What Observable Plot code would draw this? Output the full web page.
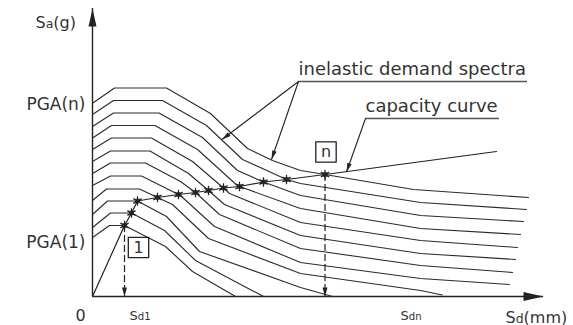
<!DOCTYPE html>
<html><head><meta charset="utf-8">
<script src="https://cdn.jsdelivr.net/npm/d3@7"></script>
<script src="https://cdn.jsdelivr.net/npm/@observablehq/plot@0.6"></script>
<style>
html,body{margin:0;padding:0;background:#fff;}
#chart svg{display:block;}
</style></head><body><div id="chart"></div>
<script>
// Capacity curve (Sd, Sa) in chart units; inner points are the performance points 1..n
const capacityX = [0, 32, 39, 45, 65, 86, 103, 116, 131, 147, 171, 194, 232.5, 404];
const capacityY = [0, 71, 83.5, 95.5, 99, 102, 104, 106, 108.5, 110, 114.5, 117, 122, 145];

// Inelastic demand spectra, top (PGA n) to bottom (PGA 1): [Sd, Sa]
const spectrum1 = [[0,193.3],[22,208.5],[74,208.5],[118,183],[155,148],[180,136],[208,126],[232.5,122],[321,107],[436,99]];
const spectrum2 = [[0,182],[21,196],[70,196],[114,171],[150,137],[194,117],[208,113],[328,94],[434,87]];
const spectrum3 = [[0,170],[21,183.5],[66.5,183.5],[110,159],[145,126],[171,114.5],[208,101],[328,81],[431,75]];
const spectrum4 = [[0,158.5],[19,171],[62.5,171],[105,147],[142,113.5],[147,110],[208,88],[328,68],[428,62]];
const spectrum5 = [[0,147],[19,158.5],[59,158.5],[100,135],[131,108.5],[137,103],[208,74],[328,56],[425,49]];
const spectrum6 = [[0,135],[18,145.5],[57.5,145.5],[96,123],[116,106],[132,92],[208,61],[328,43],[423,37]];
const spectrum7 = [[0,123],[18,133.5],[53,133.5],[88,115],[103,104],[127,82],[208,48],[328,31],[420,24]];
const spectrum8 = [[0,111],[18,120.5],[49,120.5],[86,102],[89,100],[122,70],[208,34],[328,18],[417,12]];
const spectrum9 = [[0,96],[14,107.5],[47,107.5],[65,99],[80,92],[116,58],[208,23],[328,6],[350,1.5]];
const spectrum10 = [[0,82],[15,95.5],[45,95.5],[74,80],[107,45],[208,9],[240,0]];
const spectrum11 = [[0,69],[18,83.5],[39,83.5],[72,66],[103,36],[171,0]];
const spectrum12 = [[0,59],[17,71],[32,71],[73,50],[100,25],[143,0]];

const axisLabels = ["Sa(g)", "Sd(mm)", "0"];
const pgaLabels = ["PGA(n)", "PGA(1)"];
const pgaLevels = [192, 54];
const sdLabels = ["Sd1", "Sdn"];
const calloutTexts = ["inelastic demand spectra", "capacity curve"];
const boxLabels = ["1", "n"];

const spectra = [spectrum1, spectrum2, spectrum3, spectrum4, spectrum5, spectrum6,
  spectrum7, spectrum8, spectrum9, spectrum10, spectrum11, spectrum12];
const spectraRows = spectra.flatMap((pts, i) => pts.map(([x, y]) => ({x, y, curve: i})));
const capacityRows = capacityX.map((x, i) => ({x, y: capacityY[i]}));
const perfPoints = capacityRows.slice(1, -1);
const firstPt = perfPoints[0], lastPt = perfPoints[perfPoints.length - 1];

function arrowHead(dx, dy, len, hw) {
  const n = Math.hypot(dx, dy), ux = dx / n, uy = dy / n;
  return {draw(ctx) {
    ctx.moveTo(0, 0);
    ctx.lineTo(-len * ux - hw * uy, -len * uy + hw * ux);
    ctx.lineTo(-len * ux + hw * uy, -len * uy - hw * ux);
    ctx.closePath();
  }};
}

// callout geometry (chart units, 1 unit = 1 px)
const call1 = {x: 206, y: 215, x2: 435};
const call2 = {x: 273, y: 178, x2: 407};
const leaders = [
  {x1: call1.x, y1: call1.y, x2: 129.5, y2: 157},
  {x1: call1.x, y1: call1.y, x2: 179, y2: 137},
  {x1: call2.x, y1: call2.y, x2: 254, y2: 124.5}
];
const ink = "#222";

const marks = [
  Plot.ruleX([0], {stroke: ink, strokeWidth: 1.4}),
  Plot.ruleY([0], {stroke: ink, strokeWidth: 1.4}),
  Plot.dot([{x: 0, y: 288}], {x: "x", y: "y", symbol: arrowHead(0, -1, 18, 4), fill: ink, stroke: "none"}),
  Plot.dot([{x: 451, y: 0}], {x: "x", y: "y", symbol: arrowHead(1, 0, 20, 4.5), fill: ink, stroke: "none"}),
  Plot.line(spectraRows, {x: "x", y: "y", z: "curve", stroke: "#2b2b2b", strokeWidth: 1.1}),
  Plot.line(capacityRows, {x: "x", y: "y", stroke: ink, strokeWidth: 1.2}),
  Plot.ruleX([firstPt, lastPt], {x: "x", y1: "y", y2: 0, stroke: ink, strokeWidth: 1.2, strokeDasharray: "7,3"}),
  Plot.dot([firstPt, lastPt], {x: "x", y: 0, symbol: arrowHead(0, 1, 9, 2.5), fill: ink, stroke: "none"}),
  Plot.dot(perfPoints, {x: "x", y: "y", symbol: "asterisk", r: 4.5, stroke: ink, strokeWidth: 1.2}),
  Plot.dot(perfPoints, {x: "x", y: "y", symbol: "square", r: 2, fill: "none", stroke: ink, strokeWidth: 1}),
  // callouts
  Plot.ruleY([call1], {x1: "x", x2: "x2", y: "y", stroke: "#555", strokeWidth: 1.6}),
  Plot.ruleY([call2], {x1: "x", x2: "x2", y: "y", stroke: "#555", strokeWidth: 1.6}),
  Plot.link(leaders, {x1: "x1", y1: "y1", x2: "x2", y2: "y2", stroke: ink, strokeWidth: 1.1}),
  ...leaders.map(l => Plot.dot([l], {x: "x2", y: "y2", symbol: arrowHead(l.x2 - l.x1, -(l.y2 - l.y1), 9, 2.3), fill: ink, stroke: "none"})),
  Plot.text([calloutTexts[0]], {x: call1.x, y: call1.y + 7, text: d => d, textAnchor: "start", lineAnchor: "bottom", fontSize: 18, fill: "#333"}),
  Plot.text([calloutTexts[1]], {x: call2.x, y: call2.y + 7, text: d => d, textAnchor: "start", lineAnchor: "bottom", fontSize: 18, fill: "#333"}),
  // boxes
  Plot.dot([{x: firstPt.x + 14, y: firstPt.y - 22, t: boxLabels[0]}, {x: lastPt.x + 1, y: lastPt.y + 22.5, t: boxLabels[1]}],
    {x: "x", y: "y", symbol: "square", r: 11.5, fill: "white", stroke: ink, strokeWidth: 1.3}),
  Plot.text([{x: firstPt.x + 14, y: firstPt.y - 22, t: boxLabels[0]}, {x: lastPt.x + 1, y: lastPt.y + 22.5, t: boxLabels[1]}],
    {x: "x", y: "y", text: "t", fontSize: 16, fill: "#333", lineAnchor: "middle"}),
  // axis labels
  Plot.text([axisLabels[0]], {x: -57, y: 269, text: d => d, textAnchor: "start", lineAnchor: "bottom", fontSize: 16, fill: "#333"}),
  Plot.text([axisLabels[1]], {x: 413, y: -26, text: d => d, textAnchor: "start", lineAnchor: "bottom", fontSize: 16, fill: "#333"}),
  Plot.text([axisLabels[2]], {x: -12, y: -24, text: d => d, lineAnchor: "bottom", fontSize: 16, fill: "#333"}),
  Plot.text(pgaLabels, {x: -7, y: (d, i) => pgaLevels[i], text: d => d, textAnchor: "end", lineAnchor: "middle", fontSize: 17, fill: "#333"}),
  Plot.text([{x: firstPt.x + 5, t: sdLabels[0]}, {x: 308, t: sdLabels[1]}], {x: "x", y: -23, text: "t", textAnchor: "start", lineAnchor: "bottom", fontSize: 13, fill: "#333"})
];

const svg = Plot.plot({
  width: 573, height: 325,
  marginLeft: 92, marginRight: 30, marginTop: 8, marginBottom: 29,
  x: {domain: [0, 451], axis: null},
  y: {domain: [0, 288], axis: null},
  style: {fontFamily: "'DejaVu Sans', sans-serif", background: "white", overflow: "visible"},
  marks
});

const subs = {"Sa(g)": ["S", "a", "(g)"], "Sd(mm)": ["S", "d", "(mm)"], "Sd1": ["S", "d1", ""], "Sdn": ["S", "dn", ""]};
d3.select(svg).selectAll("text").each(function() {
  const parts = subs[this.textContent];
  if (!parts) return;
  const t = d3.select(this);
  t.text(null);
  t.append("tspan").text(parts[0]);
  t.append("tspan").attr("font-size", "0.78em").text(parts[1]);
  if (parts[2]) t.append("tspan").text(parts[2]);
});
document.getElementById("chart").appendChild(svg);
</script></body></html>
